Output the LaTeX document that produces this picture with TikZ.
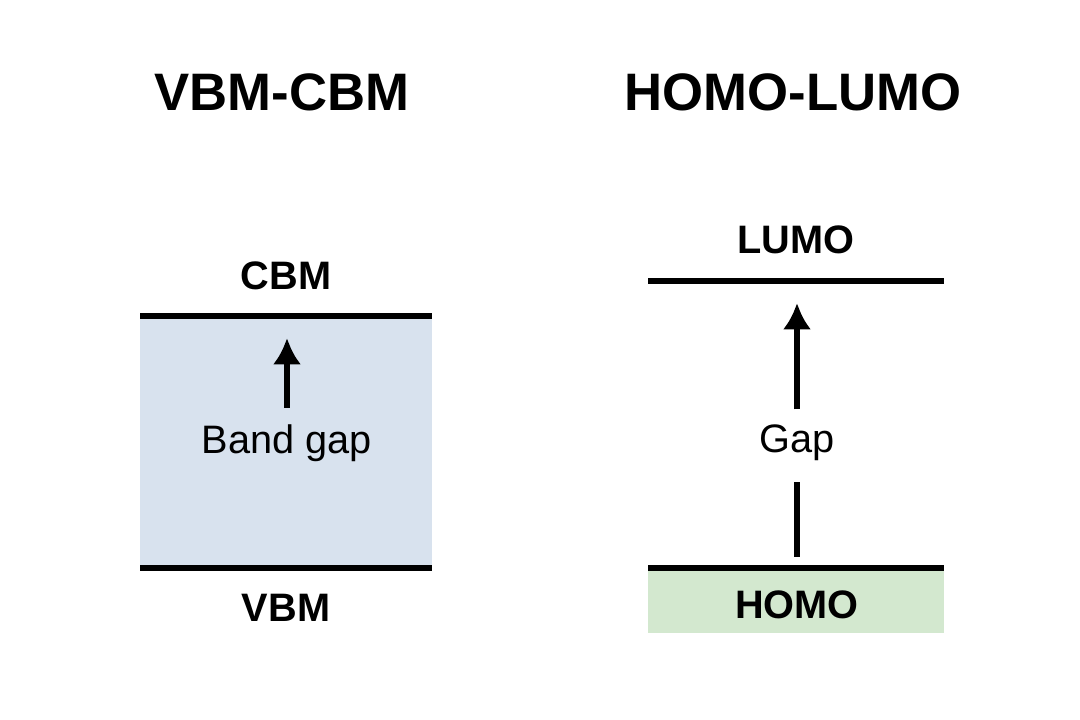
\documentclass[tikz,border=0pt]{standalone}
\usepackage{fontspec}
\setmainfont{Liberation Sans}
\usepackage{tikz}
\usetikzlibrary{arrows.meta, positioning}

\definecolor{bandblue}{RGB}{216,226,238}
\definecolor{homogreen}{RGB}{211,232,207}

\tikzset{
  level/.style={line width=1.5pt},
  gaparrow/.style={line width=1.5pt, -{Latex[length=7.5pt, width=8pt]}},
  title/.style={font=\fontsize{15}{18}\selectfont\bfseries, inner sep=0pt},
  lvllabel/.style={font=\fontsize{11.3}{13}\selectfont\bfseries, inner sep=0pt},
  gaplabel/.style={font=\fontsize{11.3}{13}\selectfont, inner sep=0pt}
}

\begin{document}
\begin{tikzpicture}
    \useasboundingbox (0,0) rectangle (10.8,7.2);

    % left: band picture
    \node[title] (title-band) at (2.82,6.28) {VBM-CBM};
    \path[fill=bandblue] (1.40,1.52) rectangle (4.32,4.04);
    \draw[level] (1.40,4.04) -- (4.32,4.04) coordinate[pos=0.5] (cbm-mid);
    \draw[level] (1.40,1.52) -- (4.32,1.52) coordinate[pos=0.5] (vbm-mid);
    \node[lvllabel, above=0.25cm of cbm-mid] (cbm) {CBM};
    \node[lvllabel, below=0.25cm of vbm-mid] (vbm) {VBM};

    \node[gaplabel] (band-gap) at (2.87,2.77) {Band gap};
    \path (band-gap.north |- 0,3.82) coordinate (band-tip);
    \draw[gaparrow] ([yshift=0.16cm]band-gap.north) -- (band-tip);

    % right: molecular picture
    \node[title] (title-mol) at (7.93,6.28) {HOMO-LUMO};
    \path[fill=homogreen] (6.48,0.87) rectangle (9.44,1.52);
    \draw[level] (6.48,4.39) -- (9.44,4.39) coordinate[pos=0.5] (lumo-mid);
    \draw[level] (6.48,1.52) -- (9.44,1.52) coordinate[pos=0.5] (homo-mid);
    \node[lvllabel, above=0.26cm of lumo-mid] (lumo) {LUMO};
    \node[lvllabel] (homo) at (7.97,1.15) {HOMO};

    \node[gaplabel] (gap) at (7.97,2.77) {Gap};
    \path (gap.north |- 0,4.17) coordinate (gap-tip);
    \draw[line width=1.5pt] ([yshift=0.11cm]gap.south |- homo-mid) -- ([yshift=-0.2cm]gap.south);
    \draw[gaparrow] ([yshift=0.15cm]gap.north) -- (gap-tip);
\end{tikzpicture}
\end{document}
